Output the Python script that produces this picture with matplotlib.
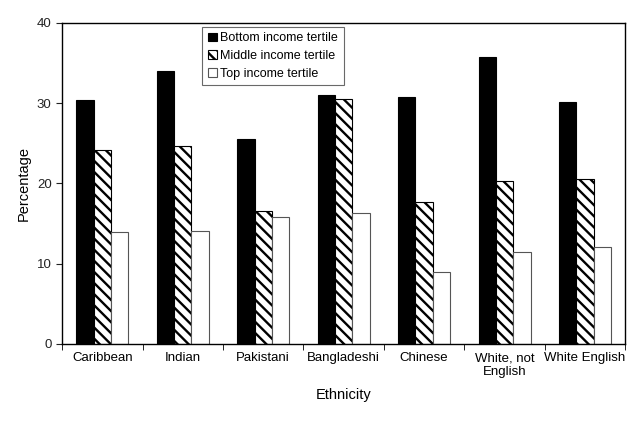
import numpy as np
import matplotlib
matplotlib.use('Agg')
import matplotlib.pyplot as plt

plt.rcParams['font.family'] = ['Liberation Sans', 'DejaVu Sans']
plt.rcParams['hatch.linewidth'] = 1.7

ethnicities = ['Caribbean', 'Indian', 'Pakistani', 'Bangladeshi', 'Chinese',
               'White, not\nEnglish', 'White English']
bottom_tertile = [30.4, 34.0, 25.5, 31.0, 30.7, 35.7, 30.1]
middle_tertile = [24.2, 24.7, 16.5, 30.5, 17.7, 20.3, 20.5]
top_tertile = [14.0, 14.1, 15.8, 16.3, 8.9, 11.5, 12.1]

fig = plt.figure(figsize=(6.4, 4.23), dpi=100)
ax = fig.add_axes([0.097, 0.187, 0.88, 0.759])

x = np.arange(len(ethnicities))
w = 0.215
ax.bar(x - w, bottom_tertile, w, color='black', edgecolor='black',
       linewidth=0.8, label='Bottom income tertile')
ax.bar(x, middle_tertile, w, color='white', edgecolor='black', hatch='\\\\\\',
       linewidth=0.8, label='Middle income tertile')
ax.bar(x + w, top_tertile, w, color='white', edgecolor='#555555',
       linewidth=0.8, label='Top income tertile')

ax.set_xlim(-0.5, len(ethnicities) - 0.5)
ax.set_ylim(0, 40)
ax.set_yticks([0, 10, 20, 30, 40])
ax.set_xticks(x)
ax.set_xticklabels(ethnicities, fontsize=9.5)
ax.set_xticks(np.arange(-0.5, len(ethnicities)), minor=True)
ax.tick_params(axis='x', which='major', length=0, pad=6)
ax.tick_params(axis='x', which='minor', length=4, direction='out')
ax.tick_params(axis='y', length=4, direction='out', labelsize=9.5, colors='#222222')
for s in ax.spines.values():
    s.set_linewidth(1.0)

ax.set_ylabel('Percentage', fontsize=10.5)
ax.set_xlabel('Ethnicity', fontsize=10.5, labelpad=7)

leg = ax.legend(loc='upper left', bbox_to_anchor=(0.249, 0.988), fontsize=9,
                frameon=True, fancybox=False, edgecolor='#444444',
                handlelength=0.7, handleheight=0.7, handletextpad=0.3,
                labelspacing=0.45, borderpad=0.45, borderaxespad=0)
leg.get_frame().set_linewidth(0.8)

fig.savefig('out.png', dpi=100)
